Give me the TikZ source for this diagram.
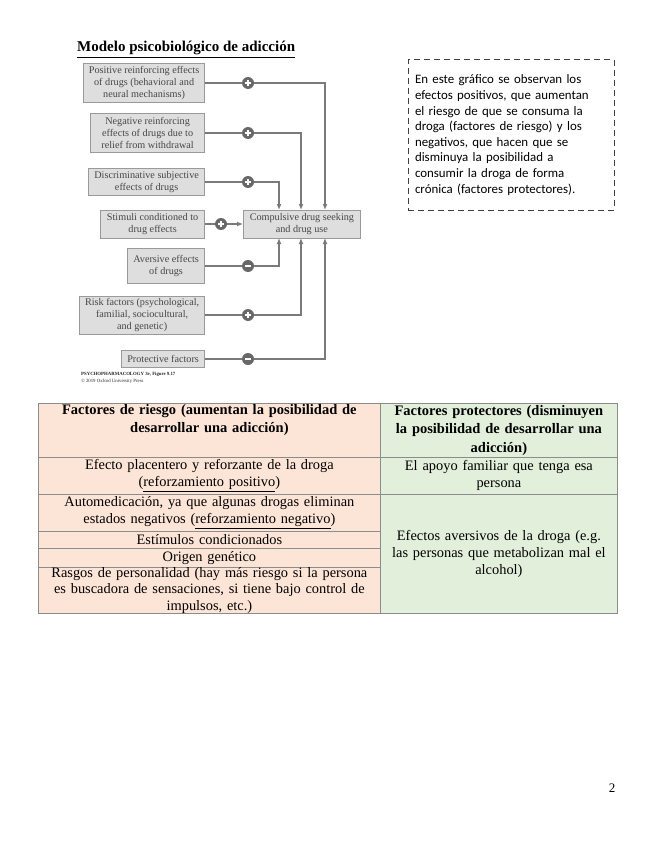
\documentclass[tikz,border=0pt]{standalone}
\usepackage{fontspec}
\setmainfont{Liberation Serif}
\newfontfamily\calibrifont{Carlito}
\usetikzlibrary{arrows.meta}
\definecolor{boxfill}{HTML}{DEDEDE}
\definecolor{boxline}{HTML}{9A9A9A}
\definecolor{conn}{HTML}{7A7A7A}
\definecolor{pinkc}{HTML}{FCE4D6}
\definecolor{greenc}{HTML}{E2EFDA}
\definecolor{tline}{HTML}{8C8C8C}
\begin{document}
\begin{tikzpicture}[x=1pt,y=-1pt,
 fbox/.style={draw=boxline, fill=boxfill, line width=0.8, anchor=east, align=center, inner sep=1, font=\fontsize{10.2}{11.8}\selectfont, text=black!72},
 sign/.style={circle, fill=conn!85!black, minimum size=12, inner sep=0},
 pl/.style={sign, path picture={\draw[white,line width=1.2] ([xshift=-3]path picture bounding box.center) -- ([xshift=3]path picture bounding box.center) ([yshift=-3]path picture bounding box.center) -- ([yshift=3]path picture bounding box.center);}},
 mi/.style={sign, path picture={\draw[white,line width=1.2] ([xshift=-3]path picture bounding box.center) -- ([xshift=3]path picture bounding box.center);}},
 link/.style={draw=conn, line width=2},
 arr/.style={link, -{Latex[length=6,width=5]}},
 cell/.style={draw=tline, line width=0.8, anchor=north west, align=center, inner sep=0, font=\fontsize{14.4}{17}\selectfont},
 hcell/.style={cell, font=\fontsize{14.5}{18.3}\selectfont\bfseries},
]
\useasboundingbox (0,0) rectangle (655,848);

% title
\node[anchor=base west, font=\fontsize{15}{17}\selectfont\bfseries, inner sep=0] (title) at (77,52) {\underline{Modelo psicobiológico de adicción}};

% diagram boxes
\node[fbox, minimum width=121, minimum height=39] (pos) at (205,83) {Positive reinforcing effects\\of drugs (behavioral and\\neural mechanisms)};
\node[fbox, minimum width=114, minimum height=39] (neg) at (205,133) {Negative reinforcing\\effects of drugs due to\\relief from withdrawal};
\node[fbox, minimum width=116, minimum height=27] (disc) at (205,182) {Discriminative subjective\\effects of drugs};
\node[fbox, minimum width=104, minimum height=28] (stim) at (205,224) {Stimuli conditioned to\\drug effects};
\node[fbox, anchor=west, minimum width=117, minimum height=28] (comp) at (243,224) {Compulsive drug seeking\\and drug use};
\node[fbox, minimum width=77, minimum height=35] (avers) at (205,266) {Aversive effects\\of drugs};
\node[fbox, minimum width=125, minimum height=38] (risk) at (205,315) {Risk factors (psychological,\\familial, sociocultural,\\and genetic)};
\node[fbox, minimum width=83, minimum height=17] (prot) at (205,359) {Protective factors};

% signs
\node[pl] (c1) at (248,83) {};
\node[pl] (c2) at (248,133) {};
\node[pl] (c3) at (248,182) {};
\node[pl] (c4) at (221,224) {};
\node[mi] (c6) at (248,266) {};
\node[pl] (c7) at (248,315) {};
\node[mi] (c8) at (248,359) {};

\coordinate (tA) at (279,210);
\coordinate (tB) at (301,210);
\coordinate (tC) at (325,210);
\coordinate (bA) at (279,238);
\coordinate (bB) at (301,238);
\coordinate (bC) at (325,238);

% connectors
\draw[link] (pos.east) -- (c1);
\draw[arr] (c1) -- (c1 -| tC) -- (tC);
\draw[link] (neg.east) -- (c2);
\draw[arr] (c2) -- (c2 -| tB) -- (tB);
\draw[link] (disc.east) -- (c3);
\draw[arr] (c3) -- (c3 -| tA) -- (tA);
\draw[link] (stim.east) -- (c4);
\draw[arr] (c4) -- (comp.west);
\draw[link] (avers.east) -- (c6);
\draw[arr] (c6) -- (c6 -| bA) -- (bA);
\draw[link] (risk.east) -- (c7);
\draw[arr] (c7) -- (c7 -| bB) -- (bB);
\draw[link] (prot.east) -- (c8);
\draw[arr] (c8) -- (c8 -| bC) -- (bC);

% source
\node[anchor=west, inner sep=0, font=\fontsize{4.8}{5}\selectfont\bfseries, text=black!85] (src1) at (81,374) {PSYCHOPHARMACOLOGY 3e, Figure 9.17};
\node[anchor=west, inner sep=0, font=\fontsize{4.8}{5}\selectfont, text=black!85] (src2) at (81,381) {© 2019 Oxford University Press};

% note
\node[draw=black!75, dash pattern=on 6pt off 4pt, line width=1, minimum width=206, minimum height=150, text width=192, align=left, inner sep=0, font=\calibrifont\fontsize{12.9}{15.6}\selectfont, text=black] (note) at (511,135) {En este gráfico se observan los\\efectos positivos, que aumentan\\el riesgo de que se consuma la\\droga (factores de riesgo) y los\\negativos, que hacen que se\\disminuya la posibilidad a\\consumir la droga de forma\\crónica (factores protectores).};

% table
\node[hcell, fill=pinkc, minimum width=342, minimum height=54, text width=338] (h1) at (38,403) {Factores de riesgo (aumentan la posibilidad de\\desarrollar una adicción)\\\strut};
\node[hcell, fill=greenc, minimum width=237, minimum height=54, text width=234] (h2) at (380,403) {Factores protectores (disminuyen\\la posibilidad de desarrollar una\\adicción)};
\node[cell, fill=pinkc, minimum width=342, minimum height=37, text width=338] (r1) at (38,457) {Efecto placentero y reforzante de la droga\\(\underline{reforzamiento positivo})};
\node[cell, fill=greenc, minimum width=237, minimum height=37, text width=234] (s1) at (380,457) {El apoyo familiar que tenga esa\\persona};
\node[cell, fill=pinkc, minimum width=342, minimum height=37, text width=338] (r2) at (38,494) {Automedicación, ya que algunas drogas eliminan\\estados negativos (\underline{reforzamiento negativo})};
\node[cell, fill=pinkc, minimum width=342, minimum height=17, text width=338] (r3) at (38,531) {Estímulos condicionados};
\node[cell, fill=pinkc, minimum width=342, minimum height=19, text width=338] (r4) at (38,548) {Origen genético};
\node[cell, fill=pinkc, minimum width=342, minimum height=46, text width=338, font=\fontsize{14.4}{16.4}\selectfont] (r5) at (38,567) {Rasgos de personalidad (hay más riesgo si la persona\\es buscadora de sensaciones, si tiene bajo control de\\impulsos, etc.)};
\node[cell, fill=greenc, minimum width=237, minimum height=119, text width=234] (s2) at (380,494) {Efectos aversivos de la droga (e.g.\\las personas que metabolizan mal el\\alcohol)};

% page number
\node[font=\fontsize{13}{15}\selectfont, inner sep=0] (pnum) at (612,788) {2};
\end{tikzpicture}
\end{document}
